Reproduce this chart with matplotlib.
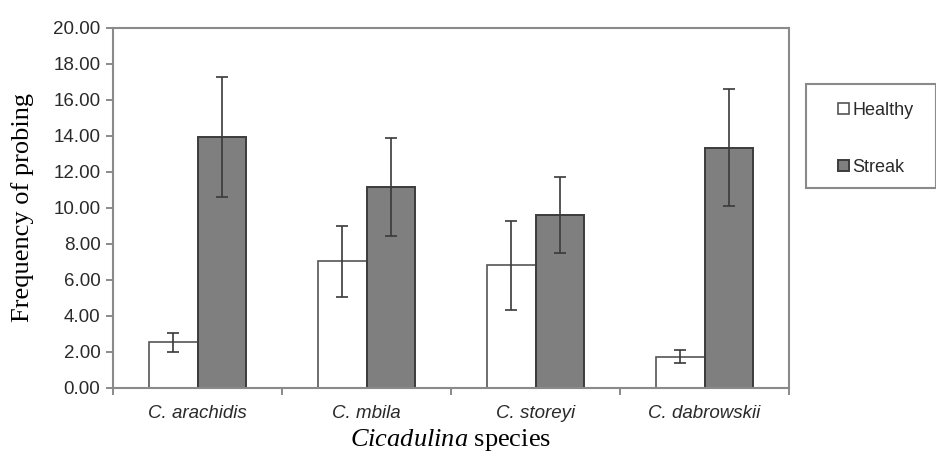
import matplotlib
matplotlib.use("Agg")
import matplotlib.pyplot as plt
from matplotlib.patches import Rectangle
import numpy as np

species = ["C. arachidis", "C. mbila", "C. storeyi", "C. dabrowskii"]
healthy = [2.55, 7.03, 6.80, 1.74]
healthy_err = [0.53, 1.96, 2.47, 0.37]
streak = [13.94, 11.14, 9.60, 13.33]
streak_err = [3.35, 2.73, 2.12, 3.25]
series_names = ["Healthy", "Streak"]
yticks = [0, 2, 4, 6, 8, 10, 12, 14, 16, 18, 20]

plt.rcParams['mathtext.fontset'] = 'custom'
plt.rcParams['mathtext.it'] = 'Liberation Serif:italic'
plt.rcParams['mathtext.rm'] = 'Liberation Serif'

fig = plt.figure(figsize=(9.37, 4.57), dpi=100)
ax = fig.add_axes([113/937, 1-388/457, (789-113)/937, (388-27.7)/457])

x = np.arange(len(species))
w = 0.287
ekw = dict(ecolor="#3a3a3a", elinewidth=1.2, capsize=4, capthick=1.2)
b1 = ax.bar(x - w/2, healthy, w, yerr=healthy_err, color="white",
            edgecolor="#555555", linewidth=1.2, label=series_names[0],
            error_kw=ekw, zorder=2)
b2 = ax.bar(x + w/2, streak, w, yerr=streak_err, color="#7f7f7f",
            edgecolor="#3c3c3c", linewidth=1.4, label=series_names[1],
            error_kw=ekw, zorder=2)

ax.set_xlim(-0.5, 3.5)
ax.set_ylim(0, 20)
ax.set_yticks(yticks)
ax.set_yticklabels([f"{v:.2f}" for v in yticks], fontfamily="Liberation Sans",
                   fontsize=13.5, color="#2a2a2a")
ax.set_xticks(x)
ax.set_xticklabels(species, fontfamily="Liberation Sans", fontsize=13.5,
                   style="italic", color="#2a2a2a")
ax.set_xticks(np.arange(-0.5, 4.0, 1.0), minor=True)
ax.tick_params(axis="x", which="major", length=0, pad=12)
ax.tick_params(axis="x", which="minor", length=5, direction="out", color="#777777", width=1.2)
ax.tick_params(axis="y", length=5, direction="out", color="#777777", width=1.2, pad=4)

for s in ax.spines.values():
    s.set_color("#8a8a8a")
    s.set_linewidth(1.5)

ax.set_ylabel("Frequency of probing", fontfamily="Liberation Serif", fontsize=19,
              labelpad=14)
ax.set_xlabel(r"$\mathit{Cicadulina}$ species", fontfamily="Liberation Serif",
              fontsize=19, labelpad=4)

leg = fig.legend(handles=[b1, b2], labels=series_names, loc="upper left",
                 bbox_to_anchor=(829/937, 1-93/457), frameon=False,
                 prop={"family": "Liberation Sans", "size": 13},
                 handlelength=0.6, handleheight=0.6, handletextpad=0.2,
                 labelspacing=2.2, borderpad=0.5, borderaxespad=0)
for t in leg.get_texts():
    t.set_color("#2a2a2a")

fig.patches.append(Rectangle((806/937, 1-188/457), (936-806)/937, (188-84)/457,
                             transform=fig.transFigure, fill=False,
                             edgecolor="#8a8a8a", linewidth=1.5))

fig.savefig("out.png", dpi=100)
